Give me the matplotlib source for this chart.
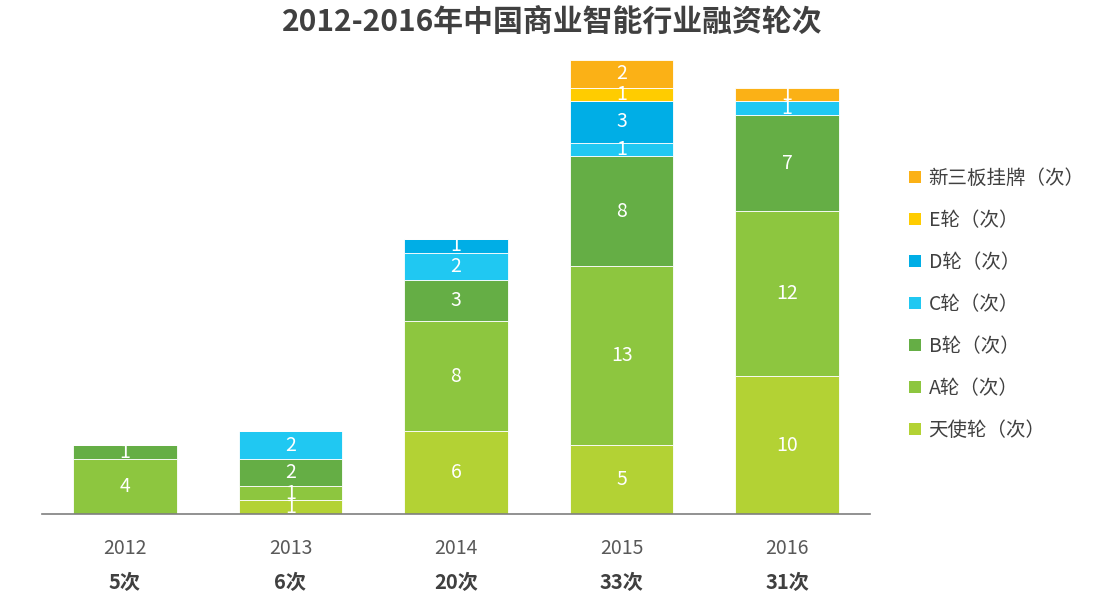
import matplotlib
matplotlib.use("Agg")
import matplotlib.pyplot as plt
import numpy as np
from matplotlib.patches import Patch

plt.rcParams['font.family'] = ['Noto Sans CJK SC', 'DejaVu Sans']

years = ["2012", "2013", "2014", "2015", "2016"]
totals = ["5次", "6次", "20次", "33次", "31次"]

# series from bottom to top
series_names = ["天使轮（次）", "A轮（次）", "B轮（次）", "C轮（次）", "D轮（次）", "E轮（次）", "新三板挂牌（次）"]
angel = [0, 1, 6, 5, 10]
round_a = [4, 1, 8, 13, 12]
round_b = [1, 2, 3, 8, 7]
round_c = [0, 2, 2, 1, 1]
round_d = [0, 0, 1, 3, 0]
round_e = [0, 0, 0, 1, 0]
neeq = [0, 0, 0, 2, 1]
series_values = [angel, round_a, round_b, round_c, round_d, round_e, neeq]
colors = ["#B3D234", "#8DC63F", "#65AE45", "#20C8F2", "#00AEE6", "#FFCC00", "#FBB116"]

fig = plt.figure(figsize=(10.98, 6.03), dpi=100)
ax = fig.add_axes([0.0383, 0.1476, 0.754, 0.7529])

x = np.arange(len(years))
bottom = np.zeros(len(years))
for vals, col in zip(series_values, colors):
    vals = np.array(vals, dtype=float)
    ax.bar(x, vals, width=0.625, bottom=bottom, color=col,
           edgecolor="#FFFFFF", linewidth=0.6, zorder=2)
    for xi, v, b in zip(x, vals, bottom):
        if v > 0:
            ax.text(xi, b + v / 2, f"{int(v)}", ha="center", va="center",
                    color="white", fontsize=14, zorder=3)
    bottom += vals

ax.set_xlim(-0.5, 4.5)
ax.set_ylim(0, 33)
for s in ["top", "right", "left"]:
    ax.spines[s].set_visible(False)
ax.spines["bottom"].set_color("#7F7F7F")
ax.spines["bottom"].set_linewidth(1.2)
ax.set_yticks([])
ax.set_xticks(x)
ax.set_xticklabels(years, fontsize=14, color="#595959")
ax.tick_params(axis="x", length=0, pad=17)

for xi, t in zip(x, totals):
    ax.text(xi, -0.152, t, transform=ax.get_xaxis_transform(), ha="center", va="center",
            fontsize=14.5, fontweight="bold", color="#404040")

fig.text(0.503, 0.963, "2012-2016年中国商业智能行业融资轮次", ha="center", va="center",
         fontsize=21.5, fontweight="bold", color="#404040")

handles = [Patch(facecolor=c, edgecolor="none") for c in colors][::-1]
labels = series_names[::-1]
fig.legend(handles, labels, loc="upper left", bbox_to_anchor=(0.812, 0.751),
           frameon=False, fontsize=14, handlelength=0.6, handleheight=0.6,
           handletextpad=0.4, labelspacing=1.08, labelcolor="#404040")

fig.savefig("out.png", dpi=100, facecolor="white")
